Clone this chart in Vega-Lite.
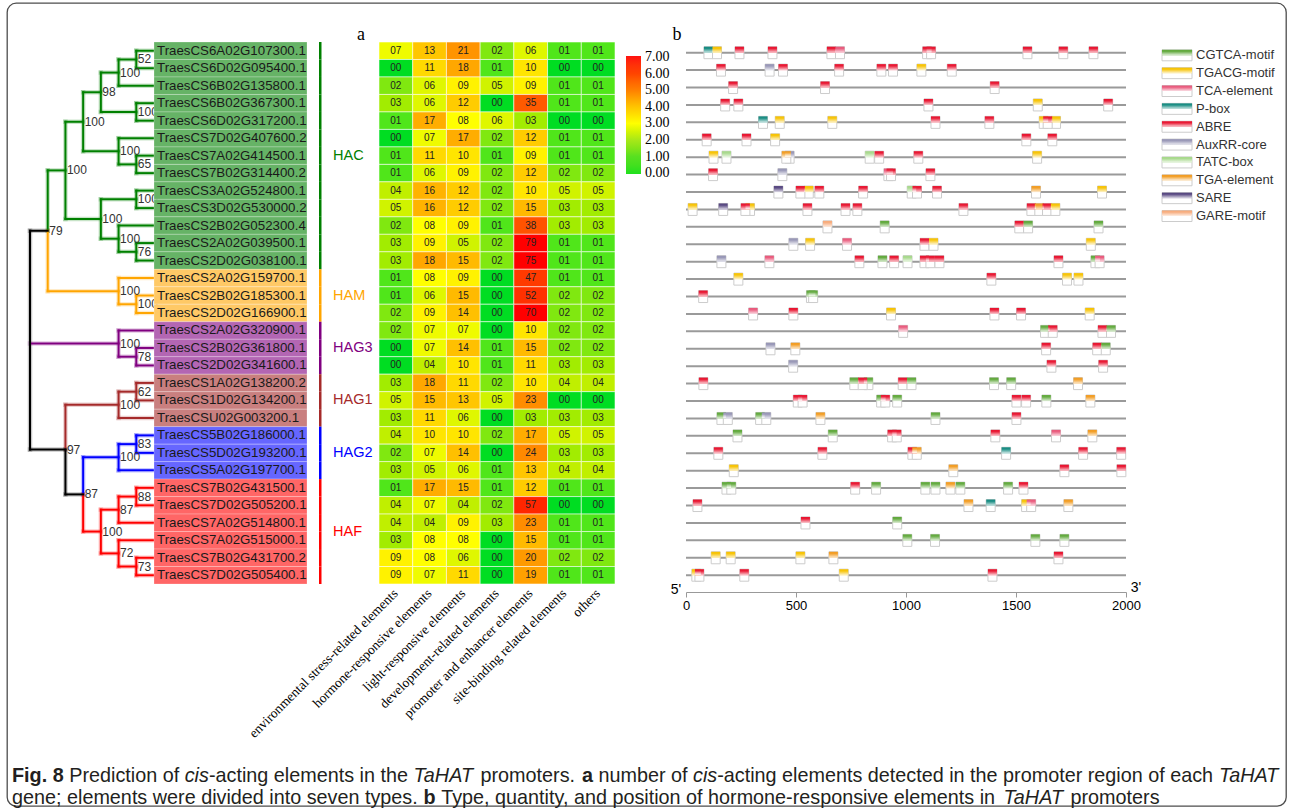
{
"$schema":"https://vega.github.io/schema/vega-lite/v6.json",
"width":1279,"height":803,
"autosize":"none",
"padding":{"left":7,"top":3,"right":7,"bottom":6},
"background":"white",
"config":{"view":{"stroke":"#4d4d4d","strokeWidth":1.3,"cornerRadius":9},"font":"Liberation Sans"},
"datasets":{
"genes":[
{"r":1,"gene":"TraesCS6A02G107300.1","group":"HAC","env":7,"hor":13,"light":21,"dev":2,"prom":6,"site":1,"oth":1},
{"r":2,"gene":"TraesCS6D02G095400.1","group":"HAC","env":0,"hor":11,"light":18,"dev":1,"prom":10,"site":0,"oth":0},
{"r":3,"gene":"TraesCS6B02G135800.1","group":"HAC","env":2,"hor":6,"light":9,"dev":5,"prom":9,"site":1,"oth":1},
{"r":4,"gene":"TraesCS6B02G367300.1","group":"HAC","env":3,"hor":6,"light":12,"dev":0,"prom":35,"site":1,"oth":1},
{"r":5,"gene":"TraesCS6D02G317200.1","group":"HAC","env":1,"hor":17,"light":8,"dev":6,"prom":3,"site":0,"oth":0},
{"r":6,"gene":"TraesCS7D02G407600.2","group":"HAC","env":0,"hor":7,"light":17,"dev":2,"prom":12,"site":1,"oth":1},
{"r":7,"gene":"TraesCS7A02G414500.1","group":"HAC","env":1,"hor":11,"light":10,"dev":1,"prom":9,"site":1,"oth":1},
{"r":8,"gene":"TraesCS7B02G314400.2","group":"HAC","env":1,"hor":6,"light":9,"dev":2,"prom":12,"site":2,"oth":2},
{"r":9,"gene":"TraesCS3A02G524800.1","group":"HAC","env":4,"hor":16,"light":12,"dev":2,"prom":10,"site":5,"oth":5},
{"r":10,"gene":"TraesCS3D02G530000.2","group":"HAC","env":5,"hor":16,"light":12,"dev":2,"prom":15,"site":3,"oth":3},
{"r":11,"gene":"TraesCS2B02G052300.4","group":"HAC","env":2,"hor":8,"light":9,"dev":1,"prom":38,"site":3,"oth":3},
{"r":12,"gene":"TraesCS2A02G039500.1","group":"HAC","env":3,"hor":9,"light":5,"dev":2,"prom":79,"site":1,"oth":1},
{"r":13,"gene":"TraesCS2D02G038100.1","group":"HAC","env":3,"hor":18,"light":15,"dev":2,"prom":75,"site":1,"oth":1},
{"r":14,"gene":"TraesCS2A02G159700.1","group":"HAM","env":1,"hor":8,"light":9,"dev":0,"prom":47,"site":1,"oth":1},
{"r":15,"gene":"TraesCS2B02G185300.1","group":"HAM","env":1,"hor":6,"light":15,"dev":0,"prom":52,"site":2,"oth":2},
{"r":16,"gene":"TraesCS2D02G166900.1","group":"HAM","env":2,"hor":9,"light":14,"dev":0,"prom":70,"site":2,"oth":2},
{"r":17,"gene":"TraesCS2A02G320900.1","group":"HAG3","env":2,"hor":7,"light":7,"dev":0,"prom":10,"site":2,"oth":2},
{"r":18,"gene":"TraesCS2B02G361800.1","group":"HAG3","env":0,"hor":7,"light":14,"dev":1,"prom":15,"site":2,"oth":2},
{"r":19,"gene":"TraesCS2D02G341600.1","group":"HAG3","env":0,"hor":4,"light":10,"dev":1,"prom":11,"site":3,"oth":3},
{"r":20,"gene":"TraesCS1A02G138200.2","group":"HAG1","env":3,"hor":18,"light":11,"dev":2,"prom":10,"site":4,"oth":4},
{"r":21,"gene":"TraesCS1D02G134200.1","group":"HAG1","env":5,"hor":15,"light":13,"dev":5,"prom":23,"site":0,"oth":0},
{"r":22,"gene":"TraesCSU02G003200.1","group":"HAG1","env":3,"hor":11,"light":6,"dev":0,"prom":3,"site":3,"oth":3},
{"r":23,"gene":"TraesCS5B02G186000.1","group":"HAG2","env":4,"hor":10,"light":10,"dev":2,"prom":17,"site":5,"oth":5},
{"r":24,"gene":"TraesCS5D02G193200.1","group":"HAG2","env":2,"hor":7,"light":14,"dev":0,"prom":24,"site":3,"oth":3},
{"r":25,"gene":"TraesCS5A02G197700.1","group":"HAG2","env":3,"hor":5,"light":6,"dev":1,"prom":13,"site":4,"oth":4},
{"r":26,"gene":"TraesCS7B02G431500.1","group":"HAF","env":1,"hor":17,"light":15,"dev":1,"prom":12,"site":1,"oth":1},
{"r":27,"gene":"TraesCS7D02G505200.1","group":"HAF","env":4,"hor":7,"light":4,"dev":2,"prom":57,"site":0,"oth":0},
{"r":28,"gene":"TraesCS7A02G514800.1","group":"HAF","env":4,"hor":4,"light":9,"dev":3,"prom":23,"site":1,"oth":1},
{"r":29,"gene":"TraesCS7A02G515000.1","group":"HAF","env":3,"hor":8,"light":8,"dev":0,"prom":15,"site":1,"oth":1},
{"r":30,"gene":"TraesCS7B02G431700.2","group":"HAF","env":9,"hor":8,"light":6,"dev":0,"prom":20,"site":2,"oth":2},
{"r":31,"gene":"TraesCS7D02G505400.1","group":"HAF","env":9,"hor":7,"light":11,"dev":0,"prom":19,"site":1,"oth":1}
],
"tree":[
{"x0":6,"x1":6,"y0":1,"y1":2,"c":"HAC"},{"x0":5,"x1":5,"y0":1.5,"y1":3,"c":"HAC"},{"x0":6,"x1":6,"y0":4,"y1":5,"c":"HAC"},{"x0":4,"x1":4,"y0":2.25,"y1":4.5,"c":"HAC"},{"x0":6,"x1":6,"y0":7,"y1":8,"c":"HAC"},{"x0":5,"x1":5,"y0":6,"y1":7.5,"c":"HAC"},{"x0":3,"x1":3,"y0":3.375,"y1":6.75,"c":"HAC"},{"x0":6,"x1":6,"y0":9,"y1":10,"c":"HAC"},{"x0":6,"x1":6,"y0":12,"y1":13,"c":"HAC"},{"x0":5,"x1":5,"y0":11,"y1":12.5,"c":"HAC"},{"x0":4,"x1":4,"y0":9.5,"y1":11.75,"c":"HAC"},{"x0":2,"x1":2,"y0":5.0625,"y1":10.625,"c":"HAC"},{"x0":1,"x1":1,"y0":7.84375,"y1":11.296875,"c":"HAC"},
{"x0":6,"x1":7,"y0":1,"y1":1,"c":"HAC"},{"x0":6,"x1":7,"y0":2,"y1":2,"c":"HAC"},{"x0":5,"x1":6,"y0":1.5,"y1":1.5,"c":"HAC"},{"x0":5,"x1":7,"y0":3,"y1":3,"c":"HAC"},{"x0":6,"x1":7,"y0":4,"y1":4,"c":"HAC"},{"x0":6,"x1":7,"y0":5,"y1":5,"c":"HAC"},{"x0":4,"x1":5,"y0":2.25,"y1":2.25,"c":"HAC"},{"x0":4,"x1":6,"y0":4.5,"y1":4.5,"c":"HAC"},{"x0":6,"x1":7,"y0":7,"y1":7,"c":"HAC"},{"x0":6,"x1":7,"y0":8,"y1":8,"c":"HAC"},{"x0":5,"x1":7,"y0":6,"y1":6,"c":"HAC"},{"x0":5,"x1":6,"y0":7.5,"y1":7.5,"c":"HAC"},{"x0":3,"x1":4,"y0":3.375,"y1":3.375,"c":"HAC"},{"x0":3,"x1":5,"y0":6.75,"y1":6.75,"c":"HAC"},{"x0":6,"x1":7,"y0":9,"y1":9,"c":"HAC"},{"x0":6,"x1":7,"y0":10,"y1":10,"c":"HAC"},{"x0":6,"x1":7,"y0":12,"y1":12,"c":"HAC"},{"x0":6,"x1":7,"y0":13,"y1":13,"c":"HAC"},{"x0":5,"x1":7,"y0":11,"y1":11,"c":"HAC"},{"x0":5,"x1":6,"y0":12.5,"y1":12.5,"c":"HAC"},{"x0":4,"x1":6,"y0":9.5,"y1":9.5,"c":"HAC"},{"x0":4,"x1":5,"y0":11.75,"y1":11.75,"c":"HAC"},{"x0":2,"x1":3,"y0":5.0625,"y1":5.0625,"c":"HAC"},{"x0":2,"x1":4,"y0":10.625,"y1":10.625,"c":"HAC"},{"x0":1,"x1":2,"y0":7.84375,"y1":7.84375,"c":"HAC"},
{"x0":6,"x1":6,"y0":15,"y1":16,"c":"HAM"},{"x0":5,"x1":5,"y0":14,"y1":15.5,"c":"HAM"},{"x0":1,"x1":1,"y0":11.296875,"y1":14.75,"c":"HAM"},{"x0":6,"x1":7,"y0":15,"y1":15,"c":"HAM"},{"x0":6,"x1":7,"y0":16,"y1":16,"c":"HAM"},{"x0":5,"x1":7,"y0":14,"y1":14,"c":"HAM"},{"x0":5,"x1":6,"y0":15.5,"y1":15.5,"c":"HAM"},{"x0":1,"x1":5,"y0":14.75,"y1":14.75,"c":"HAM"},
{"x0":6,"x1":6,"y0":18,"y1":19,"c":"HAG3"},{"x0":5,"x1":5,"y0":17,"y1":18.5,"c":"HAG3"},{"x0":6,"x1":7,"y0":18,"y1":18,"c":"HAG3"},{"x0":6,"x1":7,"y0":19,"y1":19,"c":"HAG3"},{"x0":5,"x1":7,"y0":17,"y1":17,"c":"HAG3"},{"x0":5,"x1":6,"y0":18.5,"y1":18.5,"c":"HAG3"},{"x0":0,"x1":5,"y0":17.75,"y1":17.75,"c":"HAG3"},
{"x0":6,"x1":6,"y0":20,"y1":21,"c":"HAG1"},{"x0":5,"x1":5,"y0":20.5,"y1":22,"c":"HAG1"},{"x0":2,"x1":2,"y0":21.25,"y1":23.8125,"c":"HAG1"},{"x0":6,"x1":7,"y0":20,"y1":20,"c":"HAG1"},{"x0":6,"x1":7,"y0":21,"y1":21,"c":"HAG1"},{"x0":5,"x1":6,"y0":20.5,"y1":20.5,"c":"HAG1"},{"x0":5,"x1":7,"y0":22,"y1":22,"c":"HAG1"},{"x0":2,"x1":5,"y0":21.25,"y1":21.25,"c":"HAG1"},
{"x0":6,"x1":6,"y0":23,"y1":24,"c":"HAG2"},{"x0":5,"x1":5,"y0":23.5,"y1":25,"c":"HAG2"},{"x0":3,"x1":3,"y0":24.25,"y1":26.375,"c":"HAG2"},{"x0":6,"x1":7,"y0":23,"y1":23,"c":"HAG2"},{"x0":6,"x1":7,"y0":24,"y1":24,"c":"HAG2"},{"x0":5,"x1":6,"y0":23.5,"y1":23.5,"c":"HAG2"},{"x0":5,"x1":7,"y0":25,"y1":25,"c":"HAG2"},{"x0":3,"x1":5,"y0":24.25,"y1":24.25,"c":"HAG2"},
{"x0":6,"x1":6,"y0":26,"y1":27,"c":"HAF"},{"x0":5,"x1":5,"y0":26.5,"y1":28,"c":"HAF"},{"x0":6,"x1":6,"y0":30,"y1":31,"c":"HAF"},{"x0":5,"x1":5,"y0":29,"y1":30.5,"c":"HAF"},{"x0":4,"x1":4,"y0":27.25,"y1":29.75,"c":"HAF"},{"x0":3,"x1":3,"y0":26.375,"y1":28.5,"c":"HAF"},{"x0":6,"x1":7,"y0":26,"y1":26,"c":"HAF"},{"x0":6,"x1":7,"y0":27,"y1":27,"c":"HAF"},{"x0":5,"x1":6,"y0":26.5,"y1":26.5,"c":"HAF"},{"x0":5,"x1":7,"y0":28,"y1":28,"c":"HAF"},{"x0":6,"x1":7,"y0":30,"y1":30,"c":"HAF"},{"x0":6,"x1":7,"y0":31,"y1":31,"c":"HAF"},{"x0":5,"x1":7,"y0":29,"y1":29,"c":"HAF"},{"x0":5,"x1":6,"y0":30.5,"y1":30.5,"c":"HAF"},{"x0":4,"x1":5,"y0":27.25,"y1":27.25,"c":"HAF"},{"x0":4,"x1":5,"y0":29.75,"y1":29.75,"c":"HAF"},{"x0":3,"x1":4,"y0":28.5,"y1":28.5,"c":"HAF"},
{"x0":2,"x1":2,"y0":23.8125,"y1":26.375,"c":"root"},{"x0":0,"x1":0,"y0":11.296875,"y1":23.8125,"c":"root"},{"x0":2,"x1":3,"y0":26.375,"y1":26.375,"c":"root"},{"x0":0,"x1":1,"y0":11.296875,"y1":11.296875,"c":"root"},{"x0":0,"x1":2,"y0":23.8125,"y1":23.8125,"c":"root"}
],
"nodes":[
{"d":6,"y":1.5,"t":"52"},{"d":5,"y":2.25,"t":"100"},{"d":4,"y":3.375,"t":"98"},{"d":6,"y":4.5,"t":"100"},{"d":3,"y":5.0625,"t":"100"},{"d":5,"y":6.75,"t":"100"},{"d":6,"y":7.5,"t":"65"},{"d":2,"y":7.84375,"t":"100"},{"d":6,"y":9.5,"t":"100"},{"d":4,"y":10.625,"t":"100"},{"d":5,"y":11.75,"t":"100"},{"d":6,"y":12.5,"t":"76"},{"d":1,"y":11.296875,"t":"79"},{"d":5,"y":14.75,"t":"100"},{"d":6,"y":15.5,"t":"100"},{"d":5,"y":17.75,"t":"100"},{"d":6,"y":18.5,"t":"78"},{"d":6,"y":20.5,"t":"62"},{"d":5,"y":21.25,"t":"100"},{"d":2,"y":23.8125,"t":"97"},{"d":6,"y":23.5,"t":"83"},{"d":5,"y":24.25,"t":"100"},{"d":3,"y":26.375,"t":"87"},{"d":6,"y":26.5,"t":"88"},{"d":5,"y":27.25,"t":"87"},{"d":4,"y":28.5,"t":"100"},{"d":5,"y":29.75,"t":"72"},{"d":6,"y":30.5,"t":"73"}
],
"elems":[
{"r":1,"p":102,"e":"P-box"},{"r":1,"p":141,"e":"TGACG-motif"},{"r":1,"p":243,"e":"ABRE"},{"r":1,"p":393,"e":"ABRE"},{"r":1,"p":661,"e":"ABRE"},{"r":1,"p":700,"e":"TCA-element"},{"r":1,"p":1096,"e":"ABRE"},{"r":1,"p":1114,"e":"ABRE"},{"r":1,"p":1552,"e":"ABRE"},{"r":1,"p":1715,"e":"ABRE"},{"r":1,"p":1852,"e":"ABRE"},
{"r":2,"p":159,"e":"ABRE"},{"r":2,"p":380,"e":"AuxRR-core"},{"r":2,"p":441,"e":"ABRE"},{"r":2,"p":696,"e":"ABRE"},{"r":2,"p":888,"e":"ABRE"},{"r":2,"p":941,"e":"ABRE"},{"r":2,"p":1070,"e":"TGACG-motif"},{"r":2,"p":1208,"e":"ABRE"},
{"r":3,"p":214,"e":"ABRE"},{"r":3,"p":632,"e":"ABRE"},{"r":3,"p":1403,"e":"ABRE"},
{"r":4,"p":178,"e":"ABRE"},{"r":4,"p":238,"e":"ABRE"},{"r":4,"p":1102,"e":"ABRE"},{"r":4,"p":1599,"e":"TGACG-motif"},{"r":4,"p":1919,"e":"ABRE"},
{"r":5,"p":350,"e":"P-box"},{"r":5,"p":426,"e":"TGACG-motif"},{"r":5,"p":665,"e":"TGACG-motif"},{"r":5,"p":1134,"e":"ABRE"},{"r":5,"p":1379,"e":"ABRE"},{"r":5,"p":1626,"e":"TGACG-motif"},{"r":5,"p":1682,"e":"TGACG-motif"},{"r":5,"p":1644,"e":"ABRE"},
{"r":6,"p":94,"e":"ABRE"},{"r":6,"p":275,"e":"ABRE"},{"r":6,"p":405,"e":"TGACG-motif"},{"r":6,"p":1547,"e":"ABRE"},{"r":6,"p":1665,"e":"ABRE"},
{"r":7,"p":125,"e":"TGACG-motif"},{"r":7,"p":184,"e":"TATC-box"},{"r":7,"p":471,"e":"AuxRR-core"},{"r":7,"p":456,"e":"TGA-element"},{"r":7,"p":835,"e":"TATC-box"},{"r":7,"p":878,"e":"ABRE"},{"r":7,"p":1056,"e":"ABRE"},{"r":7,"p":1596,"e":"TGACG-motif"},
{"r":8,"p":123,"e":"ABRE"},{"r":8,"p":438,"e":"AuxRR-core"},{"r":8,"p":920,"e":"TCA-element"},{"r":8,"p":932,"e":"ABRE"},{"r":8,"p":1111,"e":"ABRE"},
{"r":9,"p":420,"e":"SARE"},{"r":9,"p":558,"e":"TGACG-motif"},{"r":9,"p":520,"e":"ABRE"},{"r":9,"p":606,"e":"ABRE"},{"r":9,"p":805,"e":"ABRE"},{"r":9,"p":1026,"e":"TATC-box"},{"r":9,"p":1050,"e":"ABRE"},{"r":9,"p":1141,"e":"ABRE"},{"r":9,"p":1591,"e":"TGA-element"},{"r":9,"p":1891,"e":"TGACG-motif"},
{"r":10,"p":30,"e":"TGACG-motif"},{"r":10,"p":169,"e":"SARE"},{"r":10,"p":291,"e":"TGACG-motif"},{"r":10,"p":270,"e":"ABRE"},{"r":10,"p":552,"e":"ABRE"},{"r":10,"p":725,"e":"ABRE"},{"r":10,"p":779,"e":"ABRE"},{"r":10,"p":1261,"e":"ABRE"},{"r":10,"p":1570,"e":"ABRE"},{"r":10,"p":1606,"e":"TGA-element"},{"r":10,"p":1641,"e":"ABRE"},{"r":10,"p":1679,"e":"TGACG-motif"},
{"r":11,"p":643,"e":"GARE-motif"},{"r":11,"p":903,"e":"CGTCA-motif"},{"r":11,"p":1515,"e":"ABRE"},{"r":11,"p":1555,"e":"CGTCA-motif"},{"r":11,"p":1875,"e":"CGTCA-motif"},
{"r":12,"p":488,"e":"AuxRR-core"},{"r":12,"p":564,"e":"TGACG-motif"},{"r":12,"p":732,"e":"TCA-element"},{"r":12,"p":1084,"e":"ABRE"},{"r":12,"p":1125,"e":"TGACG-motif"},{"r":12,"p":1840,"e":"TGACG-motif"},
{"r":13,"p":161,"e":"AuxRR-core"},{"r":13,"p":379,"e":"TCA-element"},{"r":13,"p":788,"e":"ABRE"},{"r":13,"p":893,"e":"CGTCA-motif"},{"r":13,"p":946,"e":"ABRE"},{"r":13,"p":1007,"e":"TATC-box"},{"r":13,"p":1084,"e":"ABRE"},{"r":13,"p":1111,"e":"ABRE"},{"r":13,"p":1152,"e":"ABRE"},{"r":13,"p":1693,"e":"ABRE"},{"r":13,"p":1861,"e":"CGTCA-motif"},{"r":13,"p":1880,"e":"TCA-element"},
{"r":14,"p":238,"e":"TGACG-motif"},{"r":14,"p":1388,"e":"ABRE"},{"r":14,"p":1732,"e":"TGACG-motif"},{"r":14,"p":1784,"e":"TGACG-motif"},
{"r":15,"p":78,"e":"ABRE"},{"r":15,"p":568,"e":"CGTCA-motif"},{"r":15,"p":578,"e":"CGTCA-motif"},
{"r":16,"p":305,"e":"TCA-element"},{"r":16,"p":488,"e":"ABRE"},{"r":16,"p":932,"e":"TGACG-motif"},{"r":16,"p":1402,"e":"ABRE"},{"r":16,"p":1523,"e":"ABRE"},{"r":16,"p":1835,"e":"TGACG-motif"},
{"r":17,"p":987,"e":"TCA-element"},{"r":17,"p":1632,"e":"CGTCA-motif"},{"r":17,"p":1667,"e":"ABRE"},{"r":17,"p":1893,"e":"ABRE"},{"r":17,"p":1932,"e":"CGTCA-motif"},
{"r":18,"p":384,"e":"AuxRR-core"},{"r":18,"p":497,"e":"TGA-element"},{"r":18,"p":1637,"e":"ABRE"},{"r":18,"p":1869,"e":"ABRE"},{"r":18,"p":1908,"e":"CGTCA-motif"},
{"r":19,"p":487,"e":"AuxRR-core"},{"r":19,"p":1661,"e":"ABRE"},{"r":19,"p":1896,"e":"ABRE"},
{"r":20,"p":79,"e":"ABRE"},{"r":20,"p":765,"e":"CGTCA-motif"},{"r":20,"p":829,"e":"CGTCA-motif"},{"r":20,"p":803,"e":"ABRE"},{"r":20,"p":985,"e":"ABRE"},{"r":20,"p":1025,"e":"CGTCA-motif"},{"r":20,"p":1400,"e":"CGTCA-motif"},{"r":20,"p":1478,"e":"CGTCA-motif"},{"r":20,"p":1782,"e":"TGA-element"},
{"r":21,"p":508,"e":"ABRE"},{"r":21,"p":530,"e":"ABRE"},{"r":21,"p":887,"e":"CGTCA-motif"},{"r":21,"p":906,"e":"ABRE"},{"r":21,"p":960,"e":"CGTCA-motif"},{"r":21,"p":1502,"e":"ABRE"},{"r":21,"p":1546,"e":"ABRE"},{"r":21,"p":1638,"e":"CGTCA-motif"},{"r":21,"p":1838,"e":"TGA-element"},
{"r":22,"p":161,"e":"CGTCA-motif"},{"r":22,"p":190,"e":"AuxRR-core"},{"r":22,"p":337,"e":"CGTCA-motif"},{"r":22,"p":365,"e":"AuxRR-core"},{"r":22,"p":611,"e":"TGA-element"},{"r":22,"p":1134,"e":"CGTCA-motif"},{"r":22,"p":1502,"e":"ABRE"},
{"r":23,"p":234,"e":"CGTCA-motif"},{"r":23,"p":667,"e":"CGTCA-motif"},{"r":23,"p":937,"e":"ABRE"},{"r":23,"p":958,"e":"ABRE"},{"r":23,"p":1406,"e":"ABRE"},{"r":23,"p":1682,"e":"TCA-element"},{"r":23,"p":1847,"e":"TGA-element"},
{"r":24,"p":147,"e":"ABRE"},{"r":24,"p":620,"e":"ABRE"},{"r":24,"p":1029,"e":"ABRE"},{"r":24,"p":1049,"e":"TGA-element"},{"r":24,"p":1455,"e":"P-box"},{"r":24,"p":1805,"e":"ABRE"},{"r":24,"p":1978,"e":"ABRE"},
{"r":25,"p":217,"e":"TGACG-motif"},{"r":25,"p":1215,"e":"TGA-element"},{"r":25,"p":1720,"e":"ABRE"},{"r":25,"p":1979,"e":"ABRE"},
{"r":26,"p":184,"e":"CGTCA-motif"},{"r":26,"p":206,"e":"CGTCA-motif"},{"r":26,"p":769,"e":"ABRE"},{"r":26,"p":864,"e":"CGTCA-motif"},{"r":26,"p":1088,"e":"CGTCA-motif"},{"r":26,"p":1134,"e":"CGTCA-motif"},{"r":26,"p":1202,"e":"TGA-element"},{"r":26,"p":1247,"e":"CGTCA-motif"},{"r":26,"p":1464,"e":"CGTCA-motif"},{"r":26,"p":1534,"e":"ABRE"},
{"r":27,"p":52,"e":"ABRE"},{"r":27,"p":1284,"e":"TGA-element"},{"r":27,"p":1385,"e":"P-box"},{"r":27,"p":1546,"e":"TGACG-motif"},{"r":27,"p":1569,"e":"TCA-element"},{"r":27,"p":1738,"e":"TGA-element"},
{"r":28,"p":543,"e":"ABRE"},{"r":28,"p":960,"e":"CGTCA-motif"},
{"r":29,"p":1006,"e":"CGTCA-motif"},{"r":29,"p":1132,"e":"CGTCA-motif"},{"r":29,"p":1588,"e":"CGTCA-motif"},{"r":29,"p":1720,"e":"CGTCA-motif"},
{"r":30,"p":135,"e":"TGACG-motif"},{"r":30,"p":203,"e":"TGACG-motif"},{"r":30,"p":520,"e":"TGACG-motif"},{"r":30,"p":670,"e":"TGA-element"},{"r":30,"p":1693,"e":"ABRE"},
{"r":31,"p":47,"e":"TGACG-motif"},{"r":31,"p":61,"e":"ABRE"},{"r":31,"p":265,"e":"ABRE"},{"r":31,"p":717,"e":"TGACG-motif"},{"r":31,"p":1393,"e":"ABRE"}
],
"etypes":[
{"e":"CGTCA-motif","k":1},{"e":"TGACG-motif","k":2},{"e":"TCA-element","k":3},{"e":"P-box","k":4},{"e":"ABRE","k":5},{"e":"AuxRR-core","k":6},{"e":"TATC-box","k":7},{"e":"TGA-element","k":8},{"e":"SARE","k":9},{"e":"GARE-motif","k":10}
]
},
"layer":[
{"data":{"name":"tree"},"mark":{"type":"rule","strokeWidth":4.5,"opacity":0.22,"strokeCap":"square"},
 "encoding":{"x":{"field":"x0","type":"quantitative","scale":{"domain":[0,7],"range":[23,147]},"axis":null},"x2":{"field":"x1"},
 "y":{"field":"y0","type":"quantitative","scale":{"domain":[0.5,31.5],"range":[39,581]},"axis":null},"y2":{"field":"y1"},
 "color":{"field":"c","type":"nominal","scale":{"domain":["HAC","HAM","HAG3","HAG1","HAG2","HAF","root"],"range":["#008000","#ffa500","#800080","#a52a2a","#0000ff","#ff0000","#000000"]},"legend":null}}},
{"data":{"name":"tree"},"mark":{"type":"rule","strokeWidth":2,"strokeCap":"square"},
 "encoding":{"x":{"field":"x0","type":"quantitative","scale":{"domain":[0,7],"range":[23,147]},"axis":null},"x2":{"field":"x1"},
 "y":{"field":"y0","type":"quantitative","scale":{"domain":[0.5,31.5],"range":[39,581]},"axis":null},"y2":{"field":"y1"},
 "color":{"field":"c","type":"nominal","scale":{"domain":["HAC","HAM","HAG3","HAG1","HAG2","HAF","root"],"range":["#008000","#ffa500","#800080","#a52a2a","#0000ff","#ff0000","#000000"]},"legend":null}}},
{"data":{"name":"nodes"},"mark":{"type":"text","align":"left","baseline":"middle","dx":1.5,"fontSize":12,"color":"#333333"},
 "encoding":{"x":{"field":"d","type":"quantitative","scale":{"domain":[0,7],"range":[23,147]},"axis":null},
 "y":{"field":"y","type":"quantitative","scale":{"domain":[0.5,31.5],"range":[39,581]},"axis":null},"text":{"field":"t"}}},
{"data":{"name":"genes"},"mark":{"type":"rect","stroke":"#ffffff","strokeWidth":0.8,"strokeOpacity":0.3},
 "encoding":{"x":{"datum":0,"type":"quantitative","scale":{"domain":[0,1],"range":[147,300]},"axis":null},"x2":{"datum":1},
 "y":{"field":"gene","type":"nominal","sort":null,"scale":{"range":[39,581],"paddingInner":0,"paddingOuter":0},"axis":null},
 "color":{"field":"group","type":"nominal","scale":{"domain":["HAC","HAM","HAG3","HAG1","HAG2","HAF"],"range":["#66b366","#ffc966","#b366b3","#c97f7f","#6666ff","#ff6666"]},"legend":null}}},
{"data":{"name":"genes"},"mark":{"type":"text","align":"left","baseline":"middle","dx":3,"fontSize":13.3,"color":"#1a1a1a"},
 "encoding":{"x":{"datum":0,"type":"quantitative","scale":{"domain":[0,1],"range":[147,300]},"axis":null},
 "y":{"field":"gene","type":"nominal","sort":null,"scale":{"range":[39,581],"paddingInner":0,"paddingOuter":0},"axis":null},
 "text":{"field":"gene"}}},
{"data":{"name":"genes"},"mark":{"type":"rect"},
 "encoding":{"x":{"datum":0,"type":"quantitative","scale":{"domain":[0,1],"range":[312,314.5]},"axis":null},"x2":{"datum":1},
 "y":{"field":"gene","type":"nominal","sort":null,"scale":{"range":[39,581],"paddingInner":0,"paddingOuter":0},"axis":null},
 "color":{"field":"group","type":"nominal","scale":{"domain":["HAC","HAM","HAG3","HAG1","HAG2","HAF"],"range":["#008000","#ffa500","#800080","#a52a2a","#0000ff","#ff0000"]},"legend":null}}},
{"data":{"name":"genes"},"mark":{"type":"text","align":"left","baseline":"middle","fontSize":14.5},
 "encoding":{"x":{"datum":0,"type":"quantitative","scale":{"domain":[0,1],"range":[326,400]},"axis":null},
 "y":{"field":"r","aggregate":"mean","type":"quantitative","scale":{"domain":[0.5,31.5],"range":[39,581]},"axis":null},
 "text":{"field":"group"},
 "color":{"field":"group","type":"nominal","scale":{"domain":["HAC","HAM","HAG3","HAG1","HAG2","HAF"],"range":["#008000","#ffa500","#800080","#a52a2a","#0000ff","#ff0000"]},"legend":null}}},
{"data":{"name":"genes"},"transform":[{"fold":["env","hor","light","dev","prom","site","oth"],"as":["cat","n"]}],
 "mark":{"type":"rect","stroke":"#ffffff","strokeWidth":1,"strokeOpacity":0.55},
 "encoding":{"x":{"field":"cat","type":"nominal","scale":{"domain":["env","hor","light","dev","prom","site","oth"],"range":[372,608],"paddingInner":0,"paddingOuter":0},
  "axis":{"orient":"bottom","offset":-222,"title":null,"domain":false,"ticks":false,"labelAngle":-45,"labelAlign":"right","labelBaseline":"middle","labelPadding":7,"labelFont":"Liberation Serif","labelFontSize":13.5,"labelColor":"#000000","labelLimit":400,
  "labelExpr":"datum.value=='env'?'environmental stress-related elements':datum.value=='hor'?'hormone-responsive elements':datum.value=='light'?'light-responsive elements':datum.value=='dev'?'development-related elements':datum.value=='prom'?'promoter and enhancer elements':datum.value=='site'?'site-binding related elements':'others'"}},
 "y":{"field":"gene","type":"nominal","sort":null,"scale":{"range":[39,581],"paddingInner":0,"paddingOuter":0},"axis":null},
 "color":{"field":"n","type":"quantitative","scale":{"domain":[0,1,2,4,8,12,21,35,47,60,70],"range":["#00dd22","#50e61a","#80e810","#c0ef00","#ffff00","#ffcc00","#ff9400","#ff5a00","#ff3a00","#ff1e00","#ff0000"],"clamp":true},"legend":null}}},
{"data":{"name":"genes"},"transform":[{"fold":["env","hor","light","dev","prom","site","oth"],"as":["cat","n"]}],
 "mark":{"type":"text","fontSize":10,"color":"#222222","baseline":"middle"},
 "encoding":{"x":{"field":"cat","type":"nominal","scale":{"domain":["env","hor","light","dev","prom","site","oth"],"range":[372,608],"paddingInner":0,"paddingOuter":0},"axis":null},
 "y":{"field":"gene","type":"nominal","sort":null,"scale":{"range":[39,581],"paddingInner":0,"paddingOuter":0},"axis":null},
 "text":{"field":"n","type":"quantitative","format":"02d"}}},
{"data":{"values":[{"s":0},{"s":7}]},"mark":{"type":"rect","opacity":0},
 "encoding":{"x":{"datum":0,"type":"quantitative","scale":{"domain":[0,1],"range":[619,620]},"axis":null},"x2":{"datum":1},
 "y":{"datum":0,"type":"quantitative","scale":{"domain":[0,1],"range":[54,55]},"axis":null},"y2":{"datum":1},
 "color":{"field":"s","type":"quantitative","scale":{"domain":[-0.06,1,2,3,4,5,6,7.06],"range":["#1ee01e","#58e020","#a8e818","#ffff00","#ffc400","#ff8000","#ff4400","#ff1010"]},
  "legend":{"orient":"none","legendX":619,"legendY":53.1,"direction":"vertical","title":null,"gradientLength":118,"gradientThickness":15,"values":[0,1,2,3,4,5,6,7],"format":".2f","labelFont":"Liberation Serif","labelFontSize":14,"labelColor":"#000000","labelOffset":4,"labelBaseline":"middle","labelOverlap":false,"gradientStrokeWidth":0,"padding":0}}}},
{"data":{"name":"genes"},"mark":{"type":"rule","color":"#9a9a9a","strokeWidth":2},
 "encoding":{"x":{"datum":0,"type":"quantitative","scale":{"domain":[0,2000],"range":[679,1119]},
  "axis":{"orient":"bottom","offset":-214,"values":[0,500,1000,1500,2000],"format":"d","title":null,"grid":false,"domainColor":"#999999","tickColor":"#999999","tickSize":5,"labelFontSize":13,"labelColor":"#000000","labelPadding":2,"labelFlush":false}},
 "x2":{"datum":2000},
 "y":{"field":"r","type":"quantitative","scale":{"domain":[1,31],"range":[49.7,572.2]},"axis":null}}},
{"data":{"name":"elems"},"mark":{"type":"rect","width":9,"height":12,"fill":"#ffffff","stroke":"#cccccc","strokeWidth":1},
 "encoding":{"x":{"field":"p","type":"quantitative","scale":{"domain":[0,2000],"range":[679,1119]},"axis":null},
 "y":{"field":"r","type":"quantitative","scale":{"domain":[1,31],"range":[49.7,572.2]},"axis":null}}},
{"data":{"name":"elems"},"mark":{"type":"rect","width":9,"height":6,"yOffset":-3},
 "encoding":{"x":{"field":"p","type":"quantitative","scale":{"domain":[0,2000],"range":[679,1119]},"axis":null},
 "y":{"field":"r","type":"quantitative","scale":{"domain":[1,31],"range":[49.7,572.2]},"axis":null},
 "color":{"field":"e","type":"nominal","scale":{"domain":["CGTCA-motif","TGACG-motif","TCA-element","P-box","ABRE","AuxRR-core","TATC-box","TGA-element","SARE","GARE-motif"],"range":["#5fa83a","#f7c200","#e9577a","#138a80","#e8112d","#9695b5","#a6d88a","#f29b1f","#54447f","#f7aa7a"]},"legend":null}}},
{"data":{"name":"elems"},"mark":{"type":"rect","width":9,"height":6,"yOffset":-3,"fill":{"gradient":"linear","x1":0,"y1":0,"x2":0,"y2":1,"stops":[{"offset":0,"color":"rgba(255,255,255,0)"},{"offset":0.3,"color":"rgba(255,255,255,0.05)"},{"offset":1,"color":"rgba(255,255,255,0.8)"}]}},
 "encoding":{"x":{"field":"p","type":"quantitative","scale":{"domain":[0,2000],"range":[679,1119]},"axis":null},
 "y":{"field":"r","type":"quantitative","scale":{"domain":[1,31],"range":[49.7,572.2]},"axis":null}}},
{"data":{"name":"etypes"},"mark":{"type":"rect","height":11,"fill":"#ffffff","stroke":"#cccccc","strokeWidth":1},
 "encoding":{"x":{"datum":0,"type":"quantitative","scale":{"domain":[0,1],"range":[1155,1185]},"axis":null},"x2":{"datum":1},
 "y":{"field":"k","type":"quantitative","scale":{"domain":[1,10],"range":[52.3,213]},"axis":null}}},
{"data":{"name":"etypes"},"mark":{"type":"rect","height":5.5,"yOffset":-2.75},
 "encoding":{"x":{"datum":0,"type":"quantitative","scale":{"domain":[0,1],"range":[1155,1185]},"axis":null},"x2":{"datum":1},
 "y":{"field":"k","type":"quantitative","scale":{"domain":[1,10],"range":[52.3,213]},"axis":null},
 "color":{"field":"e","type":"nominal","scale":{"domain":["CGTCA-motif","TGACG-motif","TCA-element","P-box","ABRE","AuxRR-core","TATC-box","TGA-element","SARE","GARE-motif"],"range":["#5fa83a","#f7c200","#e9577a","#138a80","#e8112d","#9695b5","#a6d88a","#f29b1f","#54447f","#f7aa7a"]},"legend":null}}},
{"data":{"name":"etypes"},"mark":{"type":"rect","height":5.5,"yOffset":-2.75,"fill":{"gradient":"linear","x1":0,"y1":0,"x2":0,"y2":1,"stops":[{"offset":0,"color":"rgba(255,255,255,0)"},{"offset":0.3,"color":"rgba(255,255,255,0.05)"},{"offset":1,"color":"rgba(255,255,255,0.8)"}]}},
 "encoding":{"x":{"datum":0,"type":"quantitative","scale":{"domain":[0,1],"range":[1155,1185]},"axis":null},"x2":{"datum":1},
 "y":{"field":"k","type":"quantitative","scale":{"domain":[1,10],"range":[52.3,213]},"axis":null}}},
{"data":{"name":"etypes"},"mark":{"type":"text","align":"left","baseline":"middle","dx":4,"fontSize":13,"color":"#333333"},
 "encoding":{"x":{"datum":1,"type":"quantitative","scale":{"domain":[0,1],"range":[1155,1185]},"axis":null},
 "y":{"field":"k","type":"quantitative","scale":{"domain":[1,10],"range":[52.3,213]},"axis":null},"text":{"field":"e"}}},
{"data":{"values":[{}]},"mark":{"type":"text","text":"5'","align":"center","baseline":"middle","dx":-10,"dy":-3,"fontSize":14,"color":"#000000"},
 "encoding":{"x":{"datum":0,"type":"quantitative","scale":{"domain":[0,2000],"range":[679,1119]},"axis":null},
 "y":{"datum":32,"type":"quantitative","scale":{"domain":[1,31],"range":[49.7,572.2]},"axis":null}}},
{"data":{"values":[{}]},"mark":{"type":"text","text":"3'","align":"center","baseline":"middle","dx":10,"dy":-5,"fontSize":14,"color":"#000000"},
 "encoding":{"x":{"datum":2000,"type":"quantitative","scale":{"domain":[0,2000],"range":[679,1119]},"axis":null},
 "y":{"datum":32,"type":"quantitative","scale":{"domain":[1,31],"range":[49.7,572.2]},"axis":null}}},
{"data":{"values":[{}]},"mark":{"type":"text","text":"a","align":"center","baseline":"middle","font":"Liberation Serif","fontSize":18,"color":"#000000"},
 "encoding":{"x":{"datum":-1477,"type":"quantitative","scale":{"domain":[0,2000],"range":[679,1119]},"axis":null},
 "y":{"datum":0,"type":"quantitative","scale":{"domain":[1,31],"range":[49.7,572.2]},"axis":null}}},
{"data":{"values":[{}]},"mark":{"type":"text","text":"b","align":"center","baseline":"middle","font":"Liberation Serif","fontSize":18,"color":"#000000"},
 "encoding":{"x":{"datum":-41,"type":"quantitative","scale":{"domain":[0,2000],"range":[679,1119]},"axis":null},
 "y":{"datum":0,"type":"quantitative","scale":{"domain":[1,31],"range":[49.7,572.2]},"axis":null}}},
{"data":{"values":[{}]},"mark":{"type":"text","text":"Fig. 8","align":"left","fontSize":19.8,"fontWeight":"bold","color":"#231f20"},
 "encoding":{"x":{"datum":12,"type":"quantitative","scale":{"domain":[0,1293],"range":[-7,1286]},"axis":null},"y":{"datum":1,"type":"quantitative","scale":{"domain":[1,2],"range":[773,795]},"axis":null}}},
{"data":{"values":[{}]},"mark":{"type":"text","text":"Prediction of","align":"left","fontSize":19.8,"color":"#231f20"},
 "encoding":{"x":{"datum":69.2,"type":"quantitative","scale":{"domain":[0,1293],"range":[-7,1286]},"axis":null},"y":{"datum":1,"type":"quantitative","scale":{"domain":[1,2],"range":[773,795]},"axis":null}}},
{"data":{"values":[{}]},"mark":{"type":"text","text":"cis","align":"left","fontSize":19.8,"fontStyle":"italic","color":"#231f20"},
 "encoding":{"x":{"datum":184.7,"type":"quantitative","scale":{"domain":[0,1293],"range":[-7,1286]},"axis":null},"y":{"datum":1,"type":"quantitative","scale":{"domain":[1,2],"range":[773,795]},"axis":null}}},
{"data":{"values":[{}]},"mark":{"type":"text","text":"-acting elements in the","align":"left","fontSize":19.8,"color":"#231f20"},
 "encoding":{"x":{"datum":208.9,"type":"quantitative","scale":{"domain":[0,1293],"range":[-7,1286]},"axis":null},"y":{"datum":1,"type":"quantitative","scale":{"domain":[1,2],"range":[773,795]},"axis":null}}},
{"data":{"values":[{}]},"mark":{"type":"text","text":"TaHAT","align":"left","fontSize":19.8,"fontStyle":"italic","color":"#231f20"},
 "encoding":{"x":{"datum":413.6,"type":"quantitative","scale":{"domain":[0,1293],"range":[-7,1286]},"axis":null},"y":{"datum":1,"type":"quantitative","scale":{"domain":[1,2],"range":[773,795]},"axis":null}}},
{"data":{"values":[{}]},"mark":{"type":"text","text":"promoters.","align":"left","fontSize":19.8,"color":"#231f20"},
 "encoding":{"x":{"datum":480.5,"type":"quantitative","scale":{"domain":[0,1293],"range":[-7,1286]},"axis":null},"y":{"datum":1,"type":"quantitative","scale":{"domain":[1,2],"range":[773,795]},"axis":null}}},
{"data":{"values":[{}]},"mark":{"type":"text","text":"a","align":"left","fontSize":19.8,"fontWeight":"bold","color":"#231f20"},
 "encoding":{"x":{"datum":581.9,"type":"quantitative","scale":{"domain":[0,1293],"range":[-7,1286]},"axis":null},"y":{"datum":1,"type":"quantitative","scale":{"domain":[1,2],"range":[773,795]},"axis":null}}},
{"data":{"values":[{}]},"mark":{"type":"text","text":"number of","align":"left","fontSize":19.8,"color":"#231f20"},
 "encoding":{"x":{"datum":598.4,"type":"quantitative","scale":{"domain":[0,1293],"range":[-7,1286]},"axis":null},"y":{"datum":1,"type":"quantitative","scale":{"domain":[1,2],"range":[773,795]},"axis":null}}},
{"data":{"values":[{}]},"mark":{"type":"text","text":"cis","align":"left","fontSize":19.8,"fontStyle":"italic","color":"#231f20"},
 "encoding":{"x":{"datum":693.0,"type":"quantitative","scale":{"domain":[0,1293],"range":[-7,1286]},"axis":null},"y":{"datum":1,"type":"quantitative","scale":{"domain":[1,2],"range":[773,795]},"axis":null}}},
{"data":{"values":[{}]},"mark":{"type":"text","text":"-acting elements detected in the promoter region of each","align":"left","fontSize":19.8,"color":"#231f20"},
 "encoding":{"x":{"datum":717.2,"type":"quantitative","scale":{"domain":[0,1293],"range":[-7,1286]},"axis":null},"y":{"datum":1,"type":"quantitative","scale":{"domain":[1,2],"range":[773,795]},"axis":null}}},
{"data":{"values":[{}]},"mark":{"type":"text","text":"TaHAT","align":"left","fontSize":19.8,"fontStyle":"italic","color":"#231f20"},
 "encoding":{"x":{"datum":1219.0,"type":"quantitative","scale":{"domain":[0,1293],"range":[-7,1286]},"axis":null},"y":{"datum":1,"type":"quantitative","scale":{"domain":[1,2],"range":[773,795]},"axis":null}}},
{"data":{"values":[{}]},"mark":{"type":"text","text":"gene; elements were divided into seven types.","align":"left","fontSize":19.8,"color":"#231f20"},
 "encoding":{"x":{"datum":12,"type":"quantitative","scale":{"domain":[0,1293],"range":[-7,1286]},"axis":null},"y":{"datum":2,"type":"quantitative","scale":{"domain":[1,2],"range":[773,795]},"axis":null}}},
{"data":{"values":[{}]},"mark":{"type":"text","text":"b","align":"left","fontSize":19.8,"fontWeight":"bold","color":"#231f20"},
 "encoding":{"x":{"datum":423.6,"type":"quantitative","scale":{"domain":[0,1293],"range":[-7,1286]},"axis":null},"y":{"datum":2,"type":"quantitative","scale":{"domain":[1,2],"range":[773,795]},"axis":null}}},
{"data":{"values":[{}]},"mark":{"type":"text","text":"Type, quantity, and position of hormone-responsive elements in","align":"left","fontSize":19.8,"color":"#231f20"},
 "encoding":{"x":{"datum":441.2,"type":"quantitative","scale":{"domain":[0,1293],"range":[-7,1286]},"axis":null},"y":{"datum":2,"type":"quantitative","scale":{"domain":[1,2],"range":[773,795]},"axis":null}}},
{"data":{"values":[{}]},"mark":{"type":"text","text":"TaHAT","align":"left","fontSize":19.8,"fontStyle":"italic","color":"#231f20"},
 "encoding":{"x":{"datum":1003.6,"type":"quantitative","scale":{"domain":[0,1293],"range":[-7,1286]},"axis":null},"y":{"datum":2,"type":"quantitative","scale":{"domain":[1,2],"range":[773,795]},"axis":null}}},
{"data":{"values":[{}]},"mark":{"type":"text","text":"promoters","align":"left","fontSize":19.8,"color":"#231f20"},
 "encoding":{"x":{"datum":1070.5,"type":"quantitative","scale":{"domain":[0,1293],"range":[-7,1286]},"axis":null},"y":{"datum":2,"type":"quantitative","scale":{"domain":[1,2],"range":[773,795]},"axis":null}}}
],
"resolve":{"scale":{"x":"independent","y":"independent","color":"independent"},"axis":{"x":"independent","y":"independent"},"legend":{"color":"independent"}}
}
